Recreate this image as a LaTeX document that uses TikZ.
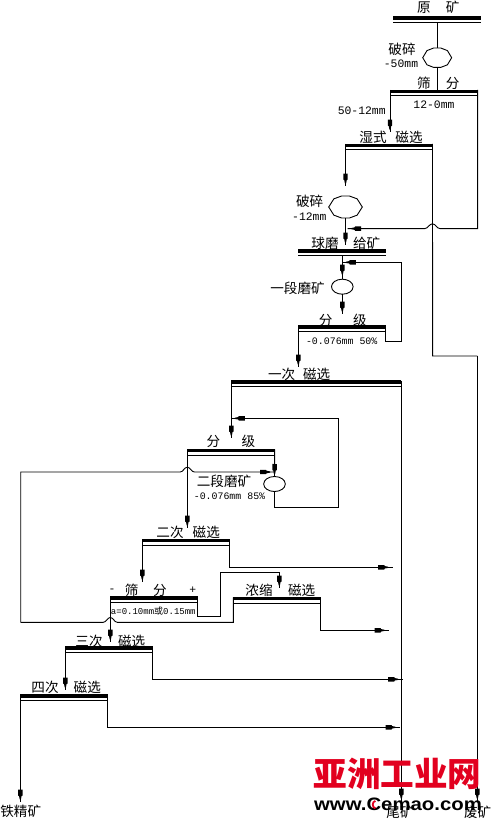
\documentclass[tikz,border=0pt]{standalone}
\usepackage{fontspec}
\usetikzlibrary{decorations.markings,calc,shapes.geometric}
\setmainfont{Liberation Mono}
\newfontfamily\cjkf{Noto Sans CJK SC}
\newfontfamily\wmsans{Liberation Sans}
\definecolor{wmred}{HTML}{E2001F}
\newcommand{\procbar}[4]{%
  \node[barspace,minimum width=#4,anchor=north west] (#1) at (#2,#3-1.7) {};
  \fill ([yshift=0.3pt]#1.north west) rectangle ([yshift=-3pt]#1.north east);
  \draw[flow] (#1.south west) -- (#1.south east);
}
\newcommand{\octa}[1]{%
  \draw[flow] (#1.0)--(#1.35)--(#1.70)--(#1.110)--(#1.145)--(#1.180)--(#1.215)--(#1.250)--(#1.290)--(#1.325)--cycle;
}
\tikzset{
  flow/.style={line width=0.9pt,line cap=butt,line join=miter},
  barspace/.style={rectangle,inner sep=0,outer sep=0,minimum height=5.7pt},
  cn/.style={font=\cjkf\fontsize{13.6}{14}\selectfont,inner sep=0,outer sep=0},
  nb/.style={font=\fontsize{11.4}{12}\selectfont,inner sep=0,outer sep=0},
  nbs/.style={font=\fontsize{9.9}{12}\selectfont,inner sep=0,outer sep=0},
  mill/.style={ellipse,draw,line width=0.9pt,inner sep=0,outer sep=0,minimum width=21.6pt,minimum height=15pt},
  crusha/.style={ellipse,inner sep=0,outer sep=0,minimum width=29pt,minimum height=20pt},
  crushb/.style={ellipse,inner sep=0,outer sep=0,minimum width=33.6pt,minimum height=22.6pt},
  blob/.style={postaction={decorate,decoration={markings,mark=at position #1 with {
    \fill (-10.5pt,-2.2pt)--(-4.5pt,-2.2pt)--(-3.8pt,-1.2pt)--(-1pt,-0.7pt)--(0pt,0pt)--(-1pt,0.7pt)--(-3.8pt,1.2pt)--(-4.5pt,2.2pt)--(-10.5pt,2.2pt)--cycle;}}}},
}
\begin{document}
\begin{tikzpicture}[x=1pt,y=-1pt]
\useasboundingbox (0,0) rectangle (492,820);
% process bars
\procbar{ym}{393.2}{18.3}{87.4}
\procbar{sfa}{390}{91.6}{87.6}
\procbar{sx}{345.5}{145.5}{87}
\procbar{qm}{298.3}{251.2}{87.4}
\procbar{fja}{298.3}{327.2}{87.4}
\procbar{yc}{231.3}{382.3}{170}
\procbar{fjb}{187.3}{451}{87.4}
\procbar{ec}{142.3}{541}{87.4}
\procbar{sfb}{110.3}{598.3}{87.4}
\procbar{ns}{233.3}{599}{87.4}
\procbar{sc}{65.3}{648.3}{87.4}
\procbar{sic}{20.3}{696.3}{87.4}
% crushers and mills
\node[crusha] (cra) at (437.2,57.7) {};
\octa{cra}
\node[crushb] (crb) at (345.5,207) {};
\octa{crb}
\node[mill] (mla) at (342.3,286.7) {};
\node[mill] (mlb) at (274.5,484) {};
% free ends
\coordinate (e1) at (390,132);
\coordinate (e2) at (345.5,186);
\coordinate (e3) at (345.5,245);
\coordinate (m1) at (347.7,228.6);
\coordinate (k1) at (478,228.6);
\coordinate (k2) at (432.6,356);
\coordinate (k3) at (477.3,356);
\coordinate (e4) at (477.3,801);
\coordinate (e5) at (342.3,277);
\coordinate (e6) at (342.3,314);
\coordinate (m2) at (342.3,262.3);
\coordinate (k4) at (401.3,341);
\coordinate (e7) at (298.3,367);
\coordinate (e8) at (231.3,438);
\coordinate (m3) at (231.3,418.3);
\coordinate (k5) at (338.3,507.3);
\coordinate (e9) at (274.5,476.5);
\coordinate (m4) at (274.5,472);
\coordinate (k6) at (20.7,472);
\coordinate (k7) at (20.7,622.3);
\coordinate (e10) at (187.3,528);
\coordinate (e11) at (142.3,582);
\coordinate (k8) at (220.7,616.3);
\coordinate (k9) at (220.7,572.3);
\coordinate (e12) at (279.3,588);
\coordinate (e13) at (392.7,567.3);
\coordinate (e14) at (389,630.3);
\coordinate (e15) at (110.3,642);
\coordinate (e16) at (65.3,690);
\coordinate (e17) at (402.7,679.3);
\coordinate (e18) at (400,727.3);
\coordinate (e19) at (20.3,802);
\coordinate (e20) at (401.3,801);
% connectors
\draw[flow] (ym.south -| cra.north) -- (cra.north);
\draw[flow] (cra.south) -- (cra.south |- sfa.north);
\draw[flow,blob=-2pt] (sfa.north west) -- (e1);
\draw[flow,blob=-2pt] (sx.north west) -- (e2);
\draw[flow] (sx.south west) -- (e2);
\draw[flow,blob=-2pt] (crb.south) -- (e3);
\draw[flow,blob=-3pt] (sfa.north east) |- (k1) -- ++(-38,0) .. controls +(-3,0) and +(3,0) .. ++(-7.6,-4.8) .. controls +(-3,0) and +(3,0) .. ++(-7.6,4.8) -- (m1);
\draw[flow] (sx.north east) -- (k2) -- (k3);
\draw[flow,blob=-2pt] (k3) -- (e4);
\draw[flow,blob=-2pt] (qm.south -| e5) -- (e5);
\draw[flow] (e5) -- (mla.north);
\draw[flow,blob=-2pt] (mla.south) -- (e6);
\draw[flow,blob=-3pt] (fja.north east) |- (k4) |- (m2);
\draw[flow,blob=-2pt] (fja.north west) -- (e7);
\draw[flow,blob=-2pt] (yc.north west) -- (e8);
\draw[flow,blob=-3pt] (mlb.south) |- (k5) |- (m3);
\draw[flow,blob=-2pt] (fjb.north east) -- (e9);
\draw[flow] (e9) -- (mlb.north);
\draw[flow,blob=-2pt] (fjb.north west) -- (e10);
\draw[flow,blob=-2pt] (ec.north west) -- (e11);
\draw[flow] (k7) -- ++(82.6,0) .. controls +(3,0) and +(-3,0) .. ++(7,-4.8) .. controls +(3,0) and +(-3,0) .. ++(7,4.8) -- (ns.north west |- k7) -- (ns.north west);
\draw[flow,blob=-4pt] (k7) -- (k6) -- ++(159.5,0) .. controls +(3,0) and +(-3,0) .. ++(7.1,-4.8) .. controls +(3,0) and +(-3,0) .. ++(7.1,4.8) -- (m4);
\draw[flow] (sfb.north east) |- (k8) -- (k9);
\draw[flow,blob=-2pt] (k9) -| (e12);
\draw[flow,blob=-4pt] (ec.north east) |- (e13);
\draw[flow,blob=-4pt] (ns.north east) |- (e14);
\draw[flow,blob=-2pt] (sfb.north west) -- (e15);
\draw[flow,blob=-2pt] (sc.north west) -- (e16);
\draw[flow,blob=-4pt] (sc.north east) |- (e17);
\draw[flow,blob=-4pt] (sic.north east) |- (e18);
\draw[flow,blob=-2pt] (sic.north west) -- (e19);
\draw[flow,blob=-2pt] (yc.north east) -- (e20);
% labels
\node[cn] (t1) at (424,7.5) {原};
\node[cn] (t2) at (452.7,7.5) {矿};
\node[cn] (t3) at (402,49) {破碎};
\node[nb] (t4) at (401,63.5) {-50mm};
\node[cn] (t5) at (424,83.5) {筛};
\node[cn] (t6) at (452.7,83.5) {分};
\node[nb] (t7) at (361.7,110.7) {50-12mm};
\node[nb] (t8) at (434,105) {12-0mm};
\node[cn] (t9) at (373,137) {湿式};
\node[cn] (t10) at (409,137) {磁选};
\node[cn] (t11) at (309.7,201.7) {破碎};
\node[nb] (t12) at (309.3,216.7) {-12mm};
\node[cn] (t13) at (325,243) {球磨};
\node[cn] (t14) at (366.7,243) {给矿};
\node[cn] (t15) at (297.5,288.3) {一段磨矿};
\node[cn] (t16) at (325.7,320) {分};
\node[cn] (t17) at (360,320) {级};
\node[nbs] (t18) at (341.7,341) {-0.076mm 50\%};
\node[cn] (t19) at (281.7,374) {一次};
\node[cn] (t20) at (316.7,374) {磁选};
\node[cn] (t21) at (213.3,441.7) {分};
\node[cn] (t22) at (248.3,441.7) {级};
\node[cn] (t23) at (224,481.7) {二段磨矿};
\node[nbs] (t24) at (229.5,496) {-0.076mm 85\%};
\node[cn] (t25) at (170,532.7) {二次};
\node[cn] (t26) at (206.3,532.7) {磁选};
\node[nb] (t27) at (112,590.7) {-};
\node[cn] (t28) at (131.7,590.7) {筛};
\node[cn] (t29) at (160,590.7) {分};
\node[nb] (t30) at (192.7,590.7) {+};
\node[font=\fontsize{9}{10}\selectfont,inner sep=0] (t31) at (153.3,611) {a=0.10mm{\cjkf 或}0.15mm};
\node[cn] (t32) at (259,590) {浓缩};
\node[cn] (t33) at (301.7,590) {磁选};
\node[cn] (t34) at (89,641) {三次};
\node[cn] (t35) at (131.7,641) {磁选};
\node[cn] (t36) at (45,687.7) {四次};
\node[cn] (t37) at (87.3,687.7) {磁选};
\node[cn] (t38) at (20.7,811.7) {铁精矿};
\node[cn] (t39) at (400,812) {尾矿};
\node[cn] (t40) at (477.7,812) {废矿};
% watermark
\node[font=\cjkf\bfseries\fontsize{33.6}{34}\selectfont,text=wmred,inner sep=0] (wa) at (397.5,774) {亚洲工业网};
\node[font=\wmsans\bfseries\fontsize{18}{18}\selectfont,inner sep=0,xscale=1.13,transform shape] (wb) at (398,804.5) {www.Cemao.com};
\draw[wmred,line width=1.8pt] ($(wb.center)+(-22.6,-3.6)$) .. controls +(-3.5,0.5) and +(-3.5,-0.5) .. ++(0,7.4);
\end{tikzpicture}
\end{document}
